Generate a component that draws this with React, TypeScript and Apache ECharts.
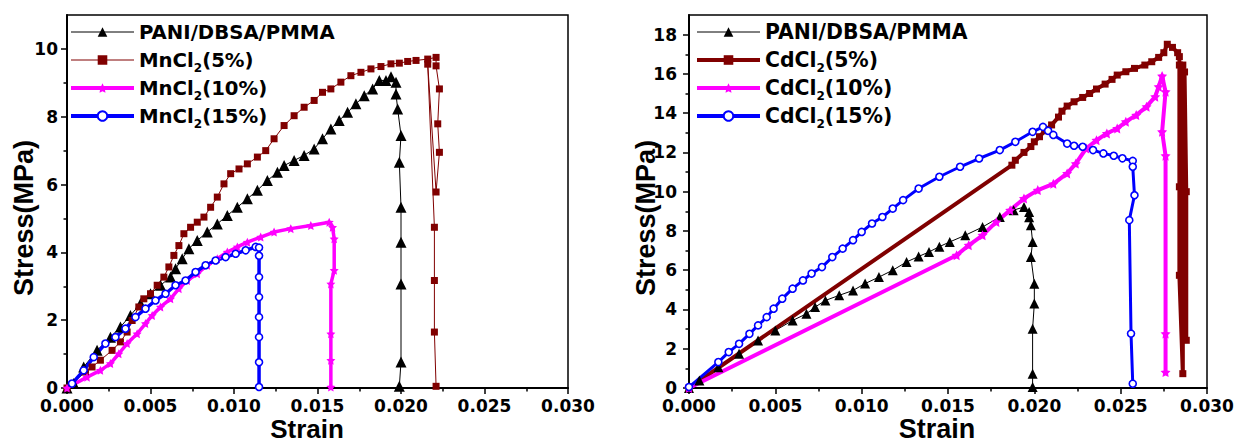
import React, { useEffect, useRef } from 'react';
import * as echarts from 'echarts';

// ---------- data: [strain, stress(MPa)] ----------
const leftNames = ['PANI/DBSA/PMMA', 'MnCl2(5%)', 'MnCl2(10%)', 'MnCl2(15%)'];
const rightNames = ['PANI/DBSA/PMMA', 'CdCl2(5%)', 'CdCl2(10%)', 'CdCl2(15%)'];

const xTickValues = [0, 0.005, 0.01, 0.015, 0.02, 0.025, 0.03];
const leftYTicks = [0, 2, 4, 6, 8, 10];
const leftYMinor = [1, 3, 5, 7, 9];
const rightYTicks = [0, 2, 4, 6, 8, 10, 12, 14, 16, 18];
const rightYMinor = [1, 3, 5, 7, 9, 11, 13, 15, 17];

const leftPani = [
  [0, 0], [0.0004, 0.13], [0.001, 0.62], [0.0018, 1.11], [0.0026, 1.5], [0.0032, 1.8], [0.0038, 2.14],
  [0.0044, 2.49], [0.005, 2.78], [0.0056, 3.03], [0.0062, 3.27], [0.0065, 3.52], [0.0069, 3.81],
  [0.0073, 4.11], [0.0078, 4.35], [0.0084, 4.6], [0.009, 4.84], [0.0096, 5.09], [0.0102, 5.33],
  [0.0108, 5.58], [0.0114, 5.83], [0.012, 6.12], [0.0126, 6.36], [0.013, 6.56], [0.0136, 6.71],
  [0.0142, 6.86], [0.0148, 7.05], [0.0153, 7.35], [0.0158, 7.64], [0.0163, 7.89], [0.0168, 8.13],
  [0.0173, 8.38], [0.0178, 8.62], [0.0183, 8.82], [0.0187, 9.07], [0.0191, 9.07], [0.0194, 9.18],
  [0.0197, 9.02], [0.0197, 8.67], [0.0198, 8.23], [0.02, 7.45], [0.0199, 6.66], [0.02, 5.33],
  [0.02, 4.3], [0.02, 3.07], [0.02, 0.77], [0.0199, 0.05],
];
const leftMn5 = [
  [0, 0], [0.0011, 0.47], [0.0015, 0.62], [0.002, 0.82], [0.0027, 1.11], [0.0032, 1.36], [0.0036, 1.65],
  [0.0039, 1.99], [0.0043, 2.39], [0.0046, 2.63], [0.005, 2.78], [0.0054, 3.03], [0.0058, 3.27],
  [0.0061, 3.57], [0.0064, 3.91], [0.0067, 4.2], [0.007, 4.55], [0.0074, 4.74], [0.0078, 4.89],
  [0.0082, 5.04], [0.0086, 5.33], [0.009, 5.63], [0.0094, 6.02], [0.0098, 6.32], [0.0103, 6.46],
  [0.0108, 6.61], [0.0114, 6.81], [0.0119, 7.0], [0.0124, 7.35], [0.013, 7.74], [0.0136, 8.03],
  [0.0142, 8.28], [0.0148, 8.48], [0.0153, 8.72], [0.0158, 8.82], [0.0164, 9.02], [0.017, 9.21],
  [0.0176, 9.31], [0.0182, 9.41], [0.0188, 9.48], [0.0194, 9.56], [0.0199, 9.58], [0.0204, 9.63],
  [0.0209, 9.66], [0.0216, 9.7], [0.0221, 9.75], [0.0221, 9.5], [0.0223, 8.82], [0.0222, 7.79],
  [0.0223, 6.95], [0.0221, 5.78], [0.0216, 9.55], [0.022, 4.74], [0.022, 3.17], [0.022, 1.65],
  [0.0221, 0.05],
];
const leftMn10 = [
  [0, 0], [0.0012, 0.32], [0.002, 0.52], [0.0026, 0.72], [0.0031, 1.01], [0.0036, 1.31], [0.0042, 1.6],
  [0.0047, 1.9], [0.0051, 2.14], [0.0056, 2.39], [0.0062, 2.63], [0.0067, 2.93], [0.0072, 3.17],
  [0.0078, 3.37], [0.0084, 3.62], [0.009, 3.81], [0.0096, 4.01], [0.0102, 4.16], [0.0108, 4.3],
  [0.0116, 4.45], [0.0124, 4.6], [0.0134, 4.7], [0.0146, 4.79], [0.0157, 4.89], [0.0159, 4.74],
  [0.016, 4.4], [0.016, 3.47], [0.0158, 3.07], [0.0158, 1.6], [0.0158, 0.82], [0.0158, 0.03],
];
const leftMn15 = [
  [0.0003, 0.13], [0.001, 0.52], [0.0016, 0.91], [0.0023, 1.31], [0.0029, 1.5], [0.0035, 1.75],
  [0.0041, 2.09], [0.0047, 2.34], [0.0053, 2.58], [0.0059, 2.78], [0.0065, 3.03], [0.0071, 3.17],
  [0.0077, 3.42], [0.0083, 3.62], [0.0089, 3.76], [0.0095, 3.86], [0.0101, 3.96], [0.0107, 4.06],
  [0.0113, 4.16], [0.0115, 4.14], [0.0115, 3.9], [0.0115, 3.27], [0.0115, 2.68], [0.0115, 2.09],
  [0.0115, 1.5], [0.0115, 0.76], [0.0115, 0.03],
];

const rightPani = [
  [0, 0], [0.0006, 0.38], [0.0017, 1.06], [0.0029, 1.74], [0.004, 2.42], [0.005, 2.93], [0.006, 3.44],
  [0.0068, 3.78], [0.0073, 4.12], [0.0079, 4.46], [0.0087, 4.72], [0.0095, 4.97], [0.0102, 5.32],
  [0.011, 5.65], [0.0118, 6.0], [0.0126, 6.42], [0.0133, 6.7], [0.0139, 6.93], [0.0145, 7.2],
  [0.0151, 7.44], [0.016, 7.78], [0.017, 8.2], [0.018, 8.71], [0.0188, 9.06], [0.0194, 9.22],
  [0.0197, 8.97], [0.0197, 8.7], [0.0198, 8.29], [0.0199, 7.44], [0.0198, 6.67], [0.02, 5.31],
  [0.02, 4.3], [0.0199, 3.02], [0.0199, 0.73], [0.0199, 0.05],
];
const rightCd5 = [
  [0, 0], [0.0187, 11.35], [0.0189, 11.6], [0.0194, 12.0], [0.0198, 12.3], [0.02, 12.54], [0.0203, 12.8],
  [0.0206, 13.1], [0.021, 13.4], [0.0214, 13.8], [0.0216, 14.1], [0.0219, 14.36], [0.0223, 14.58],
  [0.0228, 14.8], [0.0232, 15.0], [0.0236, 15.23], [0.0241, 15.48], [0.0245, 15.72], [0.0248, 15.94],
  [0.0253, 16.11], [0.0258, 16.28], [0.0264, 16.45], [0.0268, 16.62], [0.0272, 16.84], [0.0275, 17.08],
  [0.0277, 17.51], [0.028, 17.35], [0.0283, 17.08], [0.0284, 16.88], [0.0284, 16.45], [0.0284, 10.25],
  [0.0284, 5.74], [0.0286, 0.73], [0.0286, 16.45], [0.0287, 16.1], [0.0288, 10.0], [0.0288, 2.43],
];
const rightCd10 = [
  [0, 0], [0.0155, 6.76], [0.0162, 7.27], [0.017, 7.78], [0.0178, 8.46], [0.0186, 9.06], [0.0194, 9.65],
  [0.0202, 10.08], [0.0211, 10.4], [0.0219, 10.93], [0.0224, 11.43], [0.023, 12.2], [0.0236, 12.62],
  [0.0242, 12.97], [0.0248, 13.22], [0.0253, 13.56], [0.0259, 13.9], [0.0265, 14.33], [0.027, 14.84],
  [0.0272, 15.35], [0.0274, 15.89], [0.0276, 15.09], [0.0274, 13.05], [0.0276, 11.83], [0.0276, 2.77],
  [0.0276, 0.81],
];
const rightCd15 = [
  [0, 0.05], [0.0017, 1.32], [0.0023, 1.83], [0.0029, 2.25], [0.0035, 2.76], [0.004, 3.19], [0.0045, 3.61],
  [0.0049, 4.04], [0.0054, 4.55], [0.006, 5.06], [0.0066, 5.48], [0.0071, 5.83], [0.0077, 6.16],
  [0.0083, 6.67], [0.0089, 7.1], [0.0095, 7.53], [0.01, 7.95], [0.0106, 8.38], [0.0112, 8.71],
  [0.0118, 9.14], [0.0124, 9.57], [0.0133, 10.16], [0.0145, 10.76], [0.0157, 11.27], [0.0168, 11.69],
  [0.018, 12.12], [0.0189, 12.54], [0.0199, 13.05], [0.0205, 13.3], [0.0208, 13.1], [0.0211, 12.89],
  [0.0219, 12.45], [0.0223, 12.34], [0.0228, 12.29], [0.0234, 12.12], [0.024, 11.95], [0.0246, 11.83],
  [0.0251, 11.7], [0.0257, 11.57], [0.0257, 11.27], [0.0258, 9.82], [0.0255, 8.55], [0.0256, 2.77],
  [0.0257, 0.22],
];

// ---------- styling ----------
const BLACK = '#000000';
const MAROON = '#800000';
const MAGENTA = '#ff00ff';
const BLUE = '#0000ff';
const STAR = 'path://M0,-10L2.9,-4L9.5,-3.1L4.7,1.5L5.9,8.1L0,5L-5.9,8.1L-4.7,1.5L-9.5,-3.1L-2.9,-4Z';
const TICK_FONT = '"DejaVu Sans", sans-serif';
const NAME_FONT = '"Liberation Sans", Arial, sans-serif';

function xAxisDef(gridIndex: number, fontSize: number) {
  return {
    type: 'value', gridIndex, min: 0, max: 0.03, interval: 0.005,
    axisLine: { show: true, onZero: false, lineStyle: { color: BLACK, width: 2 } },
    axisTick: { show: true, inside: false, length: 6, lineStyle: { color: BLACK, width: 1.5 }, customValues: xTickValues },
    minorTick: { show: true, splitNumber: 2, length: 3.5, lineStyle: { color: BLACK, width: 1.5 } },
    splitLine: { show: false }, minorSplitLine: { show: false },
    axisLabel: {
      customValues: xTickValues,
      formatter: (v: number) => v.toFixed(3), fontFamily: TICK_FONT, fontWeight: 'bold',
      fontSize, lineHeight: 14, color: BLACK, margin: 11,
    },
  };
}
function yAxisDef(gridIndex: number, max: number, ticks: number[], fontSize: number, margin: number) {
  return {
    type: 'value', gridIndex, min: 0, max, interval: 2,
    axisLine: { show: true, onZero: false, lineStyle: { color: BLACK, width: 2 } },
    axisTick: { show: true, inside: false, length: 6, lineStyle: { color: BLACK, width: 1.5 }, customValues: ticks },
    splitLine: { show: false },
    axisLabel: {
      customValues: ticks, fontFamily: TICK_FONT, fontWeight: 'bold', fontSize, lineHeight: 14, color: BLACK, margin,
    },
  };
}
function yMinorDef(gridIndex: number, max: number, ticks: number[]) {
  return {
    type: 'value', gridIndex, min: 0, max, position: 'left',
    axisLine: { show: false },
    axisTick: { show: true, inside: false, length: 3.5, lineStyle: { color: BLACK, width: 1.5 }, customValues: ticks },
    axisLabel: { show: false }, splitLine: { show: false },
  };
}

function seriesDef(name: string, data: number[][], xi: number, yi: number, color: string, symbol: string,
  symbolSize: number, width: number, hollow = false) {
  return {
    type: 'line', name, data, xAxisIndex: xi, yAxisIndex: yi,
    symbol, symbolSize, showSymbol: true, showAllSymbol: true,
    lineStyle: { color, width },
    itemStyle: hollow ? { color: '#ffffff', borderColor: color, borderWidth: 1.6 } : { color, borderWidth: 0 },
    emphasis: { disabled: true },
  };
}

function legendDef(names: string[], widths: number[], left: number, fontSize: number, itemWidth: number) {
  return {
    data: names.map((name, i) => ({ name, lineStyle: { width: widths[i] } })),
    orient: 'vertical', left, top: 18, itemWidth, itemHeight: 12, itemGap: 0,
    selectedMode: false, padding: 0,
    formatter: (n: string) => {
      const m = n.match(/^(.*Cl)2(\(.*\))$/);
      return m ? `{t|${m[1]}}{s|2}{t|${m[2]}}` : `{t|${n}}`;
    },
    textStyle: {
      color: BLACK, fontFamily: TICK_FONT, fontWeight: 'bold', fontSize, lineHeight: 28,
      rich: {
        t: { color: BLACK, fontFamily: TICK_FONT, fontWeight: 'bold', fontSize, lineHeight: 28 },
        s: { color: BLACK, fontFamily: TICK_FONT, fontWeight: 'bold', fontSize: 12, lineHeight: 12, verticalAlign: 'bottom' },
      },
    },
  };
}

export default function App() {
  const ref = useRef<HTMLDivElement>(null);
  useEffect(() => {
    if (!ref.current) return;
    const chart = echarts.init(ref.current, undefined, { renderer: 'svg' });
    chart.setOption({
      animation: false,
      backgroundColor: '#ffffff',
      grid: [
        { left: 67, top: 15, width: 501, height: 373, show: true, borderColor: BLACK, borderWidth: 1.5, backgroundColor: 'transparent' },
        { left: 689, top: 15, width: 518, height: 373, show: true, borderColor: BLACK, borderWidth: 1.5, backgroundColor: 'transparent' },
      ],
      xAxis: [xAxisDef(0, 17), xAxisDef(1, 17)],
      yAxis: [
        yAxisDef(0, 11, leftYTicks, 17, 9), yMinorDef(0, 11, leftYMinor),
        yAxisDef(1, 19, rightYTicks, 17, 12), yMinorDef(1, 19, rightYMinor),
      ],
      legend: [
        legendDef(leftNames, [1, 1, 4, 4], 69, 19.7, 63),
        legendDef(rightNames, [1, 4, 4, 4], 695, 20.4, 63),
      ],
      series: [
        seriesDef(leftNames[0], leftPani, 0, 0, BLACK, 'triangle', 11, 1),
        seriesDef(leftNames[1], leftMn5, 0, 0, MAROON, 'rect', 7, 1),
        seriesDef(leftNames[2], leftMn10, 0, 0, MAGENTA, STAR, 9, 3.5),
        seriesDef(leftNames[3], leftMn15, 0, 0, BLUE, 'circle', 7, 3.5, true),
        seriesDef(rightNames[0], rightPani, 1, 2, BLACK, 'triangle', 10, 1),
        seriesDef(rightNames[1], rightCd5, 1, 2, MAROON, 'rect', 7, 4),
        seriesDef(rightNames[2], rightCd10, 1, 2, MAGENTA, STAR, 10, 4),
        seriesDef(rightNames[3], rightCd15, 1, 2, BLUE, 'circle', 7, 3, true),
      ],
      graphic: [
        { type: 'text', x: 307, y: 429, style: { text: 'Strain', font: `bold 26px ${NAME_FONT}`, fill: BLACK, textAlign: 'center', textVerticalAlign: 'middle' } },
        { type: 'text', x: 937, y: 429, style: { text: 'Strain', font: `bold 27px ${NAME_FONT}`, fill: BLACK, textAlign: 'center', textVerticalAlign: 'middle' } },
        { type: 'text', x: 24, y: 218, rotation: Math.PI / 2, style: { text: 'Stress(MPa)', font: `bold 27px ${NAME_FONT}`, fill: BLACK, textAlign: 'center', textVerticalAlign: 'middle' } },
        { type: 'text', x: 646, y: 218, rotation: Math.PI / 2, style: { text: 'Stress(MPa)', font: `bold 27px ${NAME_FONT}`, fill: BLACK, textAlign: 'center', textVerticalAlign: 'middle' } },
      ],
    });
    return () => chart.dispose();
  }, []);
  return <div ref={ref} style={{ position: 'fixed', left: 0, top: 0, width: 1239, height: 443 }} />;
}
